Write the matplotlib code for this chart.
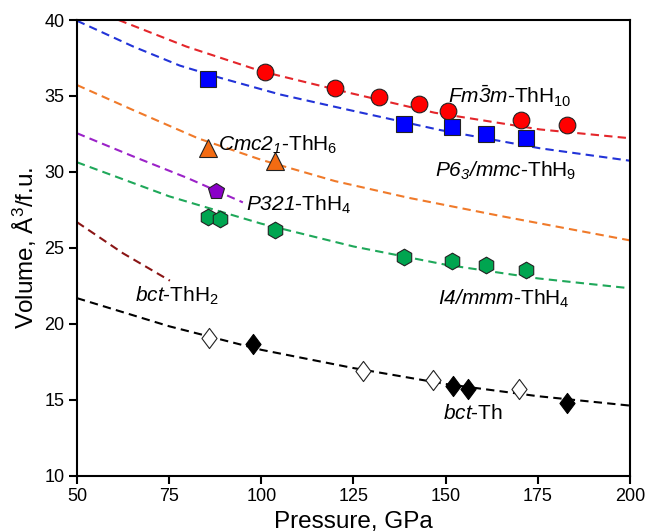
import matplotlib
matplotlib.use("Agg")
import matplotlib.pyplot as plt
from matplotlib.path import Path

plt.rcParams["font.family"] = ["Liberation Sans", "DejaVu Sans"]
plt.rcParams["mathtext.fontset"] = "custom"
plt.rcParams["mathtext.rm"] = "Liberation Sans"
plt.rcParams["mathtext.it"] = "Liberation Sans:italic"
plt.rcParams["mathtext.sf"] = "Liberation Sans:italic"  # cursiva también para los dígitos
plt.rcParams["mathtext.bf"] = "Liberation Sans:bold"

# Puntos calculados (presión GPa, volumen Å3/f.u.)
p_thh10 = [101.0, 120.0, 131.9, 142.8, 150.6, 170.4, 182.9]
v_thh10 = [36.58, 35.53, 34.93, 34.47, 34.0, 33.4, 33.1]

p_thh9 = [85.5, 138.7, 151.7, 160.9, 171.8]
v_thh9 = [36.15, 33.16, 32.96, 32.5, 32.24]

p_thh6 = [85.5, 103.7]
v_thh6 = [31.6, 30.75]

p_thh4_p321 = [87.7]
v_thh4_p321 = [28.75]

p_thh4_i4 = [85.5, 88.8, 103.7, 138.7, 151.7, 160.9, 171.8]
v_thh4_i4 = [27.04, 26.9, 26.2, 24.4, 24.15, 23.85, 23.55]

p_th_open = [85.8, 127.6, 146.6, 169.9]
v_th_open = [19.08, 16.9, 16.3, 15.7]
p_th_fill = [97.7, 152.0, 156.0, 182.9]
v_th_fill = [18.7, 15.9, 15.7, 14.8]

# Curvas de ajuste
fit_thh10_p = [61.3, 79.7, 100.4, 124.0, 147.0, 175.6, 200.0]
fit_thh10_v = [40.0, 38.25, 36.6, 35.2, 33.9, 32.8, 32.22]

fit_thh9_p = [50.0, 65.3, 77.9, 88.8, 105.1, 122.7, 148.5, 175.6, 200.0]
fit_thh9_v = [39.95, 38.25, 37.0, 36.2, 35.1, 34.14, 32.76, 31.56, 30.74]

fit_thh6_p = [50.0, 65.0, 83.0, 100.0, 120.0, 140.0, 165.0, 200.0]
fit_thh6_v = [35.72, 34.1, 32.2, 30.8, 29.4, 28.3, 27.1, 25.5]

fit_p321_p = [50.0, 65.0, 80.0, 95.0]
fit_p321_v = [32.55, 31.05, 29.6, 28.0]

fit_i4_p = [50.0, 75.0, 100.0, 125.0, 150.0, 175.0, 200.0]
fit_i4_v = [30.64, 28.4, 26.6, 25.1, 23.9, 23.0, 22.35]

fit_thh2_p = [50.0, 62.5, 75.2]
fit_thh2_v = [26.7, 24.65, 22.85]

fit_th_p = [50.0, 75.0, 100.0, 125.0, 150.0, 175.0, 200.0]
fit_th_v = [21.7, 19.85, 18.3, 17.1, 16.05, 15.25, 14.63]

dash = (4, 2.5)
lw = 1.5
ec = "#222222"

rombo = Path([(0, 1), (0.75, 0), (0, -1), (-0.75, 0), (0, 1)],
             [Path.MOVETO, Path.LINETO, Path.LINETO, Path.LINETO, Path.CLOSEPOLY])

fig, ax = plt.subplots(figsize=(6.49, 5.32), dpi=100)
fig.subplots_adjust(left=0.1186, right=0.9707, top=0.9624, bottom=0.1053)

# Líneas discontinuas
ax.plot(fit_thh10_p, fit_thh10_v, color="#e4262b", lw=lw, dashes=dash, zorder=2)
ax.plot(fit_thh9_p, fit_thh9_v, color="#2233d8", lw=lw, dashes=dash, zorder=2)
ax.plot(fit_thh6_p, fit_thh6_v, color="#f07a2a", lw=lw, dashes=dash, zorder=2)
ax.plot(fit_p321_p, fit_p321_v, color="#9b22c8", lw=lw, dashes=dash, zorder=2)
ax.plot(fit_i4_p, fit_i4_v, color="#1fa85a", lw=lw, dashes=dash, zorder=2)
ax.plot(fit_thh2_p, fit_thh2_v, color="#8a1515", lw=lw, dashes=dash, zorder=2)
ax.plot(fit_th_p, fit_th_v, color="black", lw=lw, dashes=dash, zorder=2)

# Marcadores
ax.plot(p_thh10, v_thh10, "o", ms=12, mfc="#ff0000", mec=ec, mew=0.8, zorder=3)
ax.plot(p_thh9, v_thh9, "s", ms=11.5, mfc="#0000ff", mec=ec, mew=0.8, zorder=4)
ax.plot(p_thh6, v_thh6, "^", ms=13, mfc="#f36b12", mec=ec, mew=0.8, zorder=3)
ax.plot(p_thh4_p321, v_thh4_p321, "p", ms=12, mfc="#8a00c8", mec=ec, mew=0.8, zorder=3)
ax.plot(p_thh4_i4, v_thh4_i4, "h", ms=12, mfc="#00a550", mec=ec, mew=0.8, zorder=3)
ax.plot(p_th_open, v_th_open, marker=rombo, ls="none", ms=14.5, mfc="white", mec="#222222", mew=0.8, zorder=3)
ax.plot(p_th_fill, v_th_fill, marker=rombo, ls="none", ms=14.5, mfc="black", mec="black", mew=0.8, zorder=3)

# Etiquetas
fs = 15
ax.text(150.6, 34.47, r"$\mathsf{Fm\bar{3}m}$-ThH$_{10}$", fontsize=fs, va="baseline", zorder=5)
ax.text(147.1, 29.69, r"$\mathsf{P6_3/mmc}$-ThH$_9$", fontsize=fs, va="baseline", zorder=5)
ax.text(88.3, 31.4, r"$\mathsf{Cmc2_1}$-ThH$_6$", fontsize=fs, va="baseline", zorder=5)
ax.text(95.8, 27.45, r"$\mathsf{P321}$-ThH$_4$", fontsize=fs, va="baseline", zorder=5)
ax.text(148.0, 21.25, r"$\mathsf{I4/mmm}$-ThH$_4$", fontsize=fs, va="baseline", zorder=5)
ax.text(65.7, 21.47, r"$\mathsf{bct}$-ThH$_2$", fontsize=fs, va="baseline", zorder=5)
ax.text(149.4, 13.73, r"$\mathsf{bct}$-Th", fontsize=fs, va="baseline", zorder=5)

ax.set_xlim(50, 200)
ax.set_ylim(10, 40)
ax.set_xticks([50, 75, 100, 125, 150, 175, 200])
ax.set_yticks([10, 15, 20, 25, 30, 35, 40])
ax.tick_params(direction="out", length=6, width=1.5, labelsize=13, pad=3)
for s in ax.spines.values():
    s.set_linewidth(1.5)

ax.set_xlabel("Pressure, GPa", fontsize=17.5, labelpad=4)
ax.set_ylabel("Volume, Å$^3$/f.u.", fontsize=17.5, labelpad=4)

plt.savefig("out.png", dpi=100)
